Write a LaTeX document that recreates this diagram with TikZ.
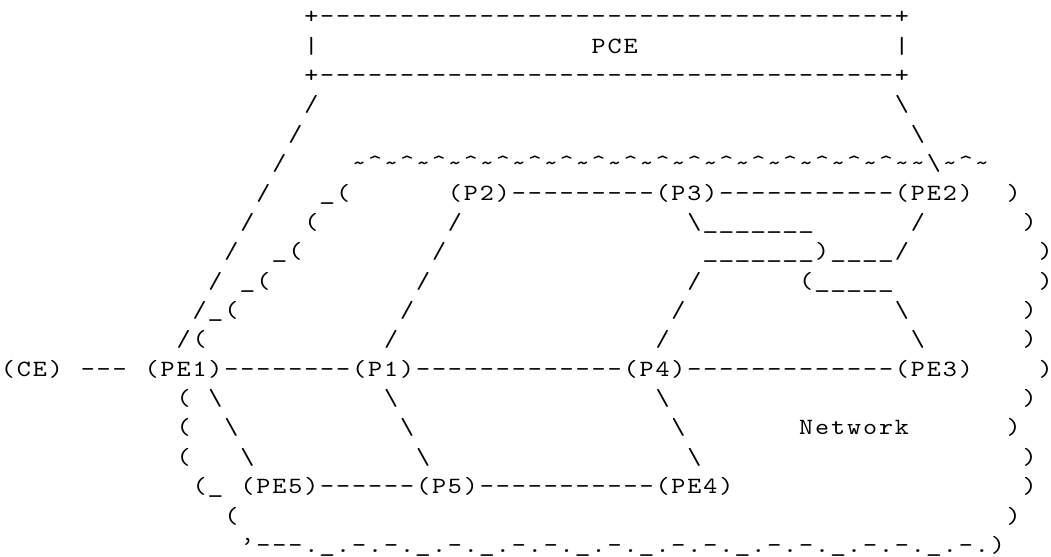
\documentclass[tikz,border=0pt]{standalone}
\usepackage{fontspec}
\usetikzlibrary{positioning}
\newfontfamily\ascfont{lmmono10-regular.otf}
\tikzset{>=latex}
\tikzset{asc/.style={anchor=base west, inner sep=0pt, outer sep=0pt,
    font=\ascfont\fontsize{17.5}{17.5}\selectfont}}

\newcommand\bsl{\textbackslash}
\newcommand\us{\scalebox{1.15}[1]{\_}}
\newcommand\tld{\textasciitilde}
\newcommand\crt{\textasciicircum}
\newcommand\asc[1]{\ascnext#1\relax}
\newcommand\ascnext[1]{\ifx#1\relax\else\makebox[12pt]{\scalebox{1.15}[1]{#1}}\expandafter\ascnext\fi}

\begin{document}
\begin{tikzpicture}[x=12pt, y=-22.07pt]
        \useasboundingbox (0pt,-4.14pt) rectangle (790pt,-422.64pt);

        \node [asc] (pcetop) at (19,1) {\asc{+------------------------------------+}};
        \node [asc] (pceleft) at (19,2) {\asc{|}};
        \node [asc] (pce) at (37,2) {\asc{PCE}};
        \node [asc] (pceright) at (56,2) {\asc{|}};
        \node [asc] (pcebottom) at (19,3) {\asc{+------------------------------------+}};

        \node [asc] (left4) at (19,4) {\asc{/}};
        \node [asc] (left5) at (18,5) {\asc{/}};
        \node [asc] (left6) at (17,6) {\asc{/}};
        \node [asc] (left7) at (16,7) {\asc{/}};
        \node [asc] (left8) at (15,8) {\asc{/}};
        \node [asc] (left9) at (14,9) {\asc{/}};
        \node [asc] (left10) at (13,10) {\asc{/}};
        \node [asc] (left11) at (12,11) {\asc{/\us(}};
        \node [asc] (left12) at (11,12) {\asc{/(}};

        \node [asc] (right4) at (56,4) {\asc{\bsl}};
        \node [asc] (right5) at (57,5) {\asc{\bsl}};
        \node [asc] (wave) at (22,6) {\asc{\tld\crt\tld\crt\tld\crt\tld\crt\tld\crt\tld\crt\tld\crt\tld\crt\tld\crt\tld\crt\tld\crt\tld\crt\tld\crt\tld\crt\tld\crt\tld\crt\tld\crt\tld\tld}};
        \node [asc, base right=0pt of wave] (right6) {\asc{\bsl}};
        \node [asc, base right=0pt of right6] (waveend) {\asc{\tld\crt\tld}};

        \node [asc] (cloud7) at (20,7) {\asc{\us(}};
        \node [asc] (cloud8) at (19,8) {\asc{(}};
        \node [asc] (cloud9) at (17,9) {\asc{\us(}};
        \node [asc] (cloud10) at (15,10) {\asc{\us(}};

        \node [asc] (p2) at (28,7) {\asc{(P2)}};
        \node [asc, base right=0pt of p2] (p2p3) {\asc{---------}};
        \node [asc, base right=0pt of p2p3] (p3) {\asc{(P3)}};
        \node [asc, base right=0pt of p3] (p3pe2) {\asc{-----------}};
        \node [asc, base right=0pt of p3pe2] (pe2) {\asc{(PE2)}};

        \node [asc] (p2p1a) at (28,8) {\asc{/}};
        \node [asc] (p2p1b) at (27,9) {\asc{/}};
        \node [asc] (p2p1c) at (26,10) {\asc{/}};
        \node [asc] (p2p1d) at (25,11) {\asc{/}};
        \node [asc] (p2p1e) at (24,12) {\asc{/}};

        \node [asc] (p3p4a) at (43,8) {\asc{\bsl\us\us\us\us\us\us\us}};
        \node [asc] (p3p4b) at (44,9) {\asc{\us\us\us\us\us\us\us)\us\us\us\us/}};
        \node [asc] (p3p4c) at (43,10) {\asc{/}};
        \node [asc] (p3p4d) at (42,11) {\asc{/}};
        \node [asc] (p3p4e) at (41,12) {\asc{/}};

        \node [asc] (pe2pe3a) at (57,8) {\asc{/}};
        \node [asc] (pe2pe3b) at (50,10) {\asc{(\us\us\us\us\us}};
        \node [asc] (pe2pe3c) at (56,11) {\asc{\bsl}};
        \node [asc] (pe2pe3d) at (57,12) {\asc{\bsl}};

        \node [asc] (ce) at (0,13) {\asc{(CE)}};
        \node [asc, base right=12pt of ce] (cepe1) {\asc{---}};
        \node [asc, base right=12pt of cepe1] (pe1) {\asc{(PE1)}};
        \node [asc, base right=0pt of pe1] (pe1p1) {\asc{--------}};
        \node [asc, base right=0pt of pe1p1] (p1) {\asc{(P1)}};
        \node [asc, base right=0pt of p1] (p1p4) {\asc{-------------}};
        \node [asc, base right=0pt of p1p4] (p4) {\asc{(P4)}};
        \node [asc, base right=0pt of p4] (p4pe3) {\asc{-------------}};
        \node [asc, base right=0pt of p4pe3] (pe3) {\asc{(PE3)}};

        \node [asc] (cloud14) at (11,14) {\asc{(}};
        \node [asc] (cloud15) at (11,15) {\asc{(}};
        \node [asc] (cloud16) at (11,16) {\asc{(}};
        \node [asc] (cloud17) at (12,17) {\asc{(\us}};
        \node [asc] (cloud18) at (14,18) {\asc{(}};
        \node [asc] (cloud19) at (15,19) {\asc{’---.\us.-.-.\us.-.\us.-.-.\us.-.\us.-.-.\us.-.-.\us.-.-.\us.-.)}};

        \node [asc] (pe1pe5a) at (13,14) {\asc{\bsl}};
        \node [asc] (pe1pe5b) at (14,15) {\asc{\bsl}};
        \node [asc] (pe1pe5c) at (15,16) {\asc{\bsl}};
        \node [asc] (p1p5a) at (24,14) {\asc{\bsl}};
        \node [asc] (p1p5b) at (25,15) {\asc{\bsl}};
        \node [asc] (p1p5c) at (26,16) {\asc{\bsl}};
        \node [asc] (p4pe4a) at (41,14) {\asc{\bsl}};
        \node [asc] (p4pe4b) at (42,15) {\asc{\bsl}};
        \node [asc] (p4pe4c) at (43,16) {\asc{\bsl}};
        \node [asc] (network) at (50,15) {\asc{Network}};

        \node [asc] (pe5) at (15,17) {\asc{(PE5)}};
        \node [asc, base right=0pt of pe5] (pe5p5) {\asc{------}};
        \node [asc, base right=0pt of pe5p5] (p5) {\asc{(P5)}};
        \node [asc, base right=0pt of p5] (p5pe4) {\asc{-----------}};
        \node [asc, base right=0pt of p5pe4] (pe4) {\asc{(PE4)}};

        \node [asc] (edge7) at (63,7) {\asc{)}};
        \node [asc] (edge8) at (64,8) {\asc{)}};
        \node [asc] (edge9) at (65,9) {\asc{)}};
        \node [asc] (edge10) at (65,10) {\asc{)}};
        \node [asc] (edge11) at (64,11) {\asc{)}};
        \node [asc] (edge12) at (64,12) {\asc{)}};
        \node [asc] (edge13) at (65,13) {\asc{)}};
        \node [asc] (edge14) at (64,14) {\asc{)}};
        \node [asc] (edge15) at (63,15) {\asc{)}};
        \node [asc] (edge16) at (64,16) {\asc{)}};
        \node [asc] (edge17) at (64,17) {\asc{)}};
        \node [asc] (edge18) at (63,18) {\asc{)}};
\end{tikzpicture}
\end{document}
